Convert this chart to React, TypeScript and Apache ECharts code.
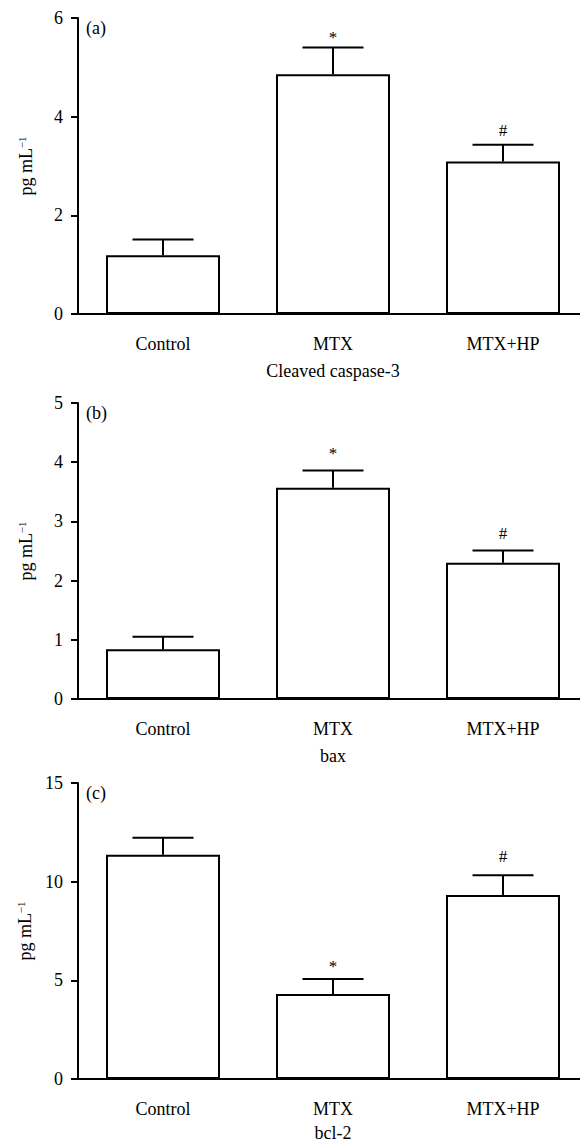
import React, { useEffect, useRef } from "react";
import * as echarts from "echarts";

const categories = ["Control", "MTX", "MTX+HP"];

const caspaseMean = [1.19, 4.86, 3.09];
const caspaseErr = [0.32, 0.54, 0.34];
const caspaseMarks = ["", "*", "#"];
const caspaseTicks = { max: 6, interval: 2 };

const baxMean = [0.84, 3.57, 2.3];
const baxErr = [0.21, 0.29, 0.21];
const baxMarks = ["", "*", "#"];
const baxTicks = { max: 5, interval: 1 };

const bclMean = [11.36, 4.31, 9.32];
const bclErr = [0.86, 0.76, 1.01];
const bclMarks = ["", "*", "#"];
const bclTicks = { max: 15, interval: 5 };

const panels = [
  { tag: "(a)", xName: "Cleaved caspase-3", mean: caspaseMean, err: caspaseErr, marks: caspaseMarks, ticks: caspaseTicks, top: 18, markGap: [0, 10, 14], nameGap: 48 },
  { tag: "(b)", xName: "bax", mean: baxMean, err: baxErr, marks: baxMarks, ticks: baxTicks, top: 403, markGap: [0, 17, 17], nameGap: 48 },
  { tag: "(c)", xName: "bcl-2", mean: bclMean, err: bclErr, marks: bclMarks, ticks: bclTicks, top: 783, markGap: [0, 12, 19], nameGap: 45 },
];

const FONT = "Liberation Serif";
const INK = "#000";
const PLOT_H = 296;
const LEFT = 78;

export default function App() {
  const ref = useRef<HTMLDivElement>(null);
  useEffect(() => {
    if (!ref.current) return;
    const chart = echarts.init(ref.current, null, { renderer: "svg" });
    const grids: any[] = [];
    const xAxes: any[] = [];
    const yAxes: any[] = [];
    const series: any[] = [];
    const graphics: any[] = [];
    panels.forEach((p, i) => {
      grids.push({ left: LEFT, right: -8, top: p.top, height: PLOT_H, containLabel: false, outerBoundsMode: "none" });
      xAxes.push({
        type: "category",
        gridIndex: i,
        data: categories,
        name: p.xName,
        nameLocation: "middle",
        nameGap: p.nameGap,
        nameTextStyle: { fontFamily: FONT, fontSize: 18, color: INK },
        axisLine: { lineStyle: { color: INK, width: 2 } },
        axisTick: { alignWithLabel: true, length: 8, lineStyle: { color: INK, width: 2 } },
        axisLabel: { fontFamily: FONT, fontSize: 18, color: INK, margin: 21 },
        splitLine: { show: false },
      });
      yAxes.push({
        type: "value",
        gridIndex: i,
        min: 0,
        max: p.ticks.max,
        interval: p.ticks.interval,
        name: "pg mL{s|−1}",
        nameLocation: "middle",
        nameGap: 42,
        nameTextStyle: {
          fontFamily: FONT,
          fontSize: 18,
          color: INK,
          rich: { s: { fontFamily: FONT, fontSize: 11, color: INK, verticalAlign: "top", lineHeight: 20 } },
        },
        axisLine: { show: true, lineStyle: { color: INK, width: 2 } },
        axisTick: { show: true, length: 7, lineStyle: { color: INK, width: 2 } },
        axisLabel: { fontFamily: FONT, fontSize: 18, color: INK, margin: 15 },
        splitLine: { show: false },
      });
      series.push({
        type: "bar",
        xAxisIndex: i,
        yAxisIndex: i,
        data: p.mean,
        barWidth: 114,
        itemStyle: { color: "#fff", borderColor: INK, borderWidth: 2 },
        z: 2,
      });
      const marks = p.marks;
      const gaps = p.markGap;
      series.push({
        type: "custom",
        xAxisIndex: i,
        yAxisIndex: i,
        z: 3,
        data: p.mean.map((m, k) => [k, m, p.err[k]]),
        renderItem: (params: any, api: any) => {
          const idx = api.value(0);
          const m = api.value(1);
          const e = api.value(2);
          const base = api.coord([idx, m]);
          const top = api.coord([idx, m + e]);
          const st = { stroke: INK, lineWidth: 2 };
          const children: any[] = [
            { type: "line", shape: { x1: base[0], y1: base[1], x2: top[0], y2: top[1] }, style: st },
            { type: "line", shape: { x1: top[0] - 30.5, y1: top[1], x2: top[0] + 30.5, y2: top[1] }, style: st },
          ];
          if (marks[idx]) {
            children.push({
              type: "text",
              x: top[0],
              y: top[1] - gaps[idx],
              style: { text: marks[idx], fontFamily: FONT, fontSize: 17, fill: INK, align: "center", verticalAlign: "middle" },
            });
          }
          return { type: "group", children };
        },
      });
      graphics.push({
        type: "text",
        left: 86,
        top: p.top + 1,
        style: { text: p.tag, fontFamily: FONT, fontSize: 18, fill: INK },
      });
    });
    chart.setOption({
      animation: false,
      backgroundColor: "#fff",
      grid: grids,
      xAxis: xAxes,
      yAxis: yAxes,
      series,
      graphic: graphics,
    });
    return () => chart.dispose();
  }, []);
  return <div ref={ref} style={{ position: "absolute", left: 0, top: 0, width: 580, height: 1143 }} />;
}
